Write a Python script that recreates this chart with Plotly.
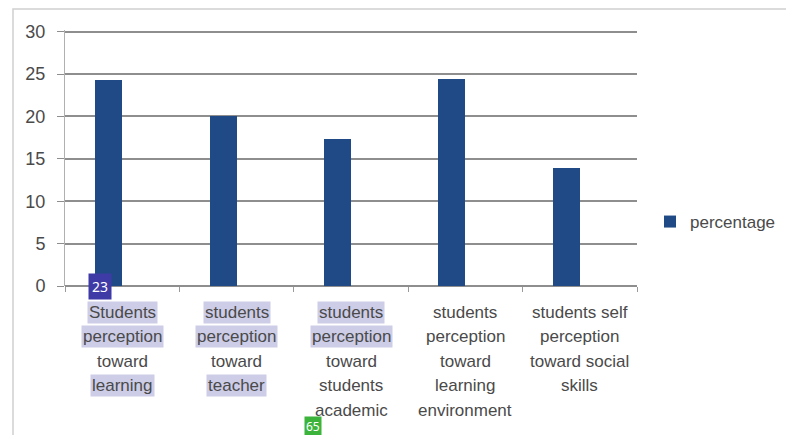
import plotly.graph_objects as go

categories = [
    "Students perception toward learning",
    "students perception toward teacher",
    "students perception toward students academic",
    "students perception toward learning environment",
    "students self perception toward social skills",
]
label_lines = [
    ["Students", "perception", "toward", "learning"],
    ["students", "perception", "toward", "teacher"],
    ["students", "perception", "toward", "students", "academic"],
    ["students", "perception", "toward", "learning", "environment"],
    ["students self", "perception", "toward social", "skills"],
]
highlighted = [
    [True, True, False, True],
    [True, True, False, True],
    [True, True, False, False, False],
    [False, False, False, False, False],
    [False, False, False, False],
]
percentage = [24.3, 20.0, 17.3, 24.4, 13.9]
y_ticks = [0, 5, 10, 15, 20, 25, 30]
series_name = "percentage"

W, H = 786, 435
L, R, T, B = 65, 637, 30, 286
pw, ph = R - L, B - T

def px_x(x):
    return (x - L) / pw

def px_y(y):
    return (B - y) / ph

text_color = "#4a4a4a"
font_family = "Liberation Sans, Arial, sans-serif"

fig = go.Figure()
fig.add_trace(go.Bar(
    x=categories, y=percentage, name=series_name,
    marker=dict(color="#1f4a86", line=dict(width=0)),
    width=0.236, offset=-0.236,
    showlegend=True,
))

annotations = []
line_y0, line_dy = 312, 24.5
for ci, (cat, lines) in enumerate(zip(categories, label_lines)):
    for li, txt in enumerate(lines):
        hl = highlighted[ci][li]
        annotations.append(dict(
            x=cat, xref="x", y=px_y(line_y0 + li * line_dy), yref="paper",
            text=txt, showarrow=False, xanchor="center", yanchor="middle",
            font=dict(family=font_family, size=17, color=text_color),
            bgcolor="#cdcde8" if hl else "rgba(0,0,0,0)", borderpad=1,
        ))

# overlay badges seen in the reference
annotations.append(dict(
    x=px_x(100), xref="paper", y=px_y(286), yref="paper", text="23",
    showarrow=False, xanchor="center", yanchor="middle",
    font=dict(family="Noto Sans, sans-serif", size=14, color="white"),
    bgcolor="#3e3aa6", borderpad=3,
))
annotations.append(dict(
    x=px_x(312.5), xref="paper", y=px_y(426.5), yref="paper", text="65",
    showarrow=False, xanchor="center", yanchor="middle",
    font=dict(family="Noto Sans, sans-serif", size=12, color="white"),
    bgcolor="#3cb43c", borderpad=1,
))

fig.update_layout(
    width=W, height=H,
    margin=dict(l=L, r=W - R, t=T, b=H - B, pad=0, autoexpand=False),
    paper_bgcolor="white", plot_bgcolor="white",
    bargap=0,
    showlegend=True,
    legend=dict(
        x=px_x(650), xanchor="left", y=px_y(222), yanchor="middle",
        font=dict(family=font_family, size=17, color=text_color),
        bgcolor="rgba(0,0,0,0)", itemwidth=30,
    ),
    xaxis=dict(
        type="category", showticklabels=False, showgrid=False,
        ticks="outside", ticklen=5, tickcolor="#9a9a9a", tickson="boundaries",
        showline=False, zeroline=False,
    ),
    yaxis=dict(
        range=[0, 30.2], tickvals=y_ticks, ticktext=[str(v) for v in y_ticks],
        showgrid=True, gridcolor="#8e8e8e", gridwidth=1.5,
        ticks="outside", ticklen=7, tickcolor="#8e8e8e",
        showline=True, linecolor="#b0b0b0", linewidth=1,
        zeroline=True, zerolinecolor="#8e8e8e", zerolinewidth=1.5,
        tickfont=dict(family=font_family, size=18, color=text_color),
        ticklabelstandoff=8,
    ),
    annotations=annotations,
    shapes=[dict(
        type="rect", xref="paper", yref="paper",
        x0=px_x(13), x1=px_x(820), y0=px_y(470), y1=px_y(9),
        line=dict(color="#cfcfcf", width=1.5), fillcolor="rgba(0,0,0,0)",
        layer="below",
    )],
)

fig.write_html("out.html", config={"displayModeBar": False},
               post_script="document.body.style.margin='0';")
